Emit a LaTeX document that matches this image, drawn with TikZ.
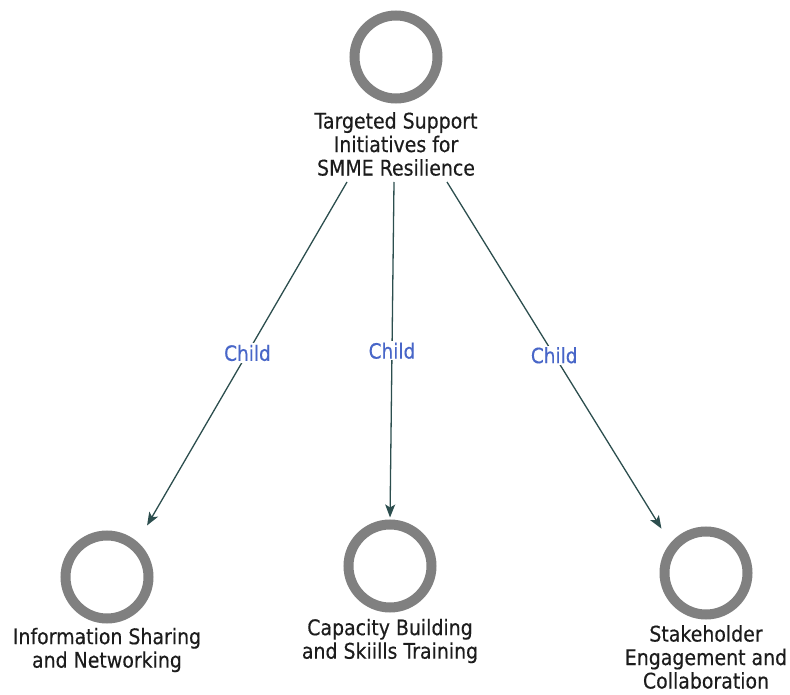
\documentclass[tikz,border=0pt]{standalone}
\usepackage{fontspec}
\setmainfont{DejaVu Sans}[FakeStretch=0.88, FakeBold=0.35]
\usetikzlibrary{arrows.meta}
\definecolor{ringgray}{RGB}{128,128,128}
\definecolor{linkcol}{RGB}{44,78,78}
\definecolor{tagblue}{RGB}{72,102,200}
\definecolor{txt}{RGB}{28,28,28}
\tikzset{
  ring/.style={circle, draw=ringgray, line width=10pt, fill=white,
               minimum size=83pt, inner sep=0pt},
  caption/.style={align=center, text=txt,
                  font=\fontsize{21.5}{23.5}\selectfont, inner sep=0pt},
  link/.style={draw=linkcol, line width=1.3pt,
               -{Stealth[length=13pt, width=10pt, inset=3pt]}},
  tag/.style={fill=white, text=tagblue, inner sep=1.5pt,
              font=\fontsize{21}{22}\selectfont},
}
\begin{document}
\begin{tikzpicture}[x=1pt, y=-1pt]
  \useasboundingbox (0,0) rectangle (790,695);

  % root topic
  \node[ring] (root) at (396,57) {};
  \node[caption] (rootcap) at (396,144)
    {Targeted Support\\Initiatives for\\SMME Resilience};

  % child topics
  \node[ring] (c1) at (107,577) {};
  \node[caption] (c1cap) at (107,650) {Information Sharing\\and Networking};
  \node[ring] (c2) at (390,566) {};
  \node[caption] (c2cap) at (390,641) {Capacity Building\\and Skiills Training};
  \node[ring] (c3) at (706,573) {};
  \node[caption] (c3cap) at (706,657) {Stakeholder\\Engagement and\\Collaboration};

  % connector start points under the root caption
  \coordinate (s1) at (347,182);
  \coordinate (s2) at (394,182);
  \coordinate (s3) at (447,182);

  \draw[link, shorten >=19pt] (s1) -- (c1.49)
    node[tag, pos=0.475] {Child};
  \draw[link, shorten >=2pt] (s2) -- (c2.north)
    node[tag, pos=0.5] {Child};
  \draw[link, shorten >=17pt] (s3) -- (c3.140)
    node[tag, pos=0.48] {Child};
\end{tikzpicture}
\end{document}
